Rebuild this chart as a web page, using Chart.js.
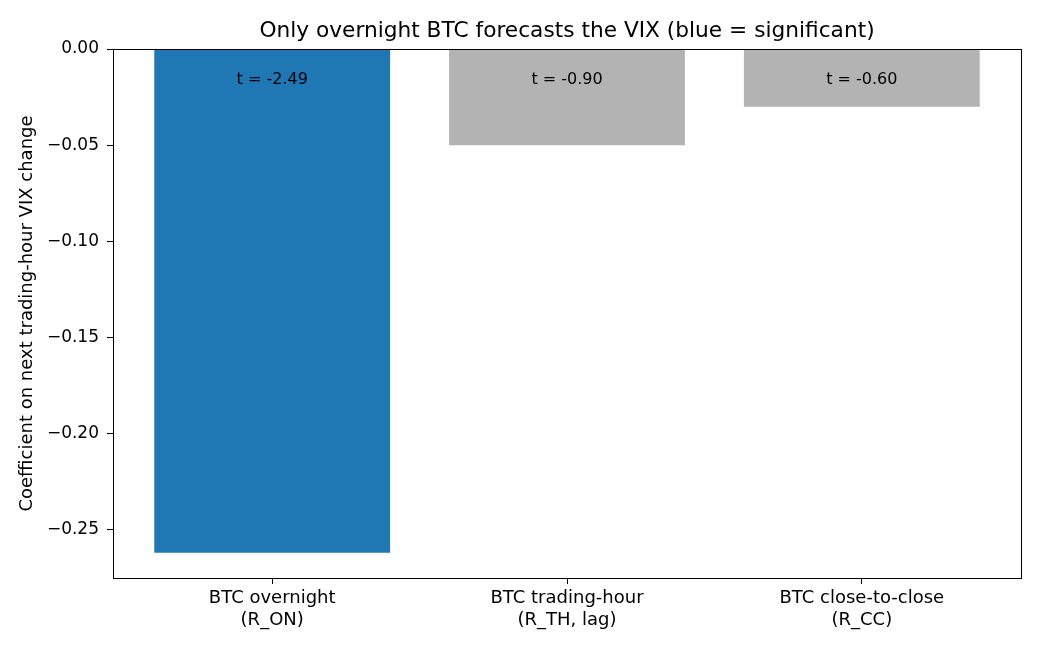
<!DOCTYPE html>
<html>
<head>
<meta charset="utf-8">
<script src="https://cdn.jsdelivr.net/npm/chart.js@4"></script>
<style>
html,body{margin:0;padding:0;background:#fff}
#wrap{width:1040px;height:650px}
</style>
</head>
<body>
<div id="wrap"><canvas id="c" width="1040" height="650"></canvas></div>
<script>
const xLabels=[['BTC overnight','(R_ON)'],['BTC trading-hour','(R_TH, lag)'],['BTC close-to-close','(R_CC)']]
const coefs=[-0.262,-0.050,-0.030]
const tStats=['t = -2.49','t = -0.90','t = -0.60']
const barColors=['#1f77b4','#b3b3b3','#b3b3b3']
const yTicks=[0,-0.05,-0.10,-0.15,-0.20,-0.25]
const titleText='Only overnight BTC forecasts the VIX (blue = significant)'

const font='DejaVu Sans'
Chart.defaults.font.family=font
Chart.defaults.color='#000'

// title centred over the axes, frame on all four sides, t labels
const extras={
    id:'extras',
    afterDatasetsDraw(chart){
        const ctx=chart.ctx
        const meta=chart.getDatasetMeta(0)
        const y0=chart.scales.y.getPixelForValue(0)
        const a=chart.chartArea
        ctx.save()
        ctx.fillStyle='#000'
        ctx.textAlign='center'
        ctx.textBaseline='middle'
        ctx.font='16px "'+font+'"'
        for (let i=0;i<meta.data.length;i++){
            ctx.fillText(tStats[i],meta.data[i].x,y0+31)
        }
        ctx.font='21.7px "'+font+'"'
        ctx.fillText(titleText,(a.left+a.right)/2,a.top-18)
        ctx.strokeStyle='#000'
        ctx.lineWidth=1
        ctx.strokeRect(Math.round(a.left)+0.5,Math.round(a.top)+0.5,Math.round(a.right-a.left),Math.round(a.bottom-a.top))
        ctx.restore()
    }
}

new Chart(document.getElementById('c'),{
    type:'bar',
    data:{
        datasets:[{
            data:coefs.map((v,i)=>({x:i,y:v})),
            backgroundColor:barColors,
            categoryPercentage:1,
            barPercentage:0.8,
            borderWidth:0
        }]
    },
    options:{
        responsive:false,
        animation:false,
        layout:{padding:{top:49,right:19,bottom:0,left:0}},
        plugins:{
            legend:{display:false},
            tooltip:{enabled:false},
            title:{display:false}
        },
        scales:{
            x:{
                type:'linear',
                min:-0.54,
                max:2.54,
                offset:false,
                grid:{display:true,offset:false,drawOnChartArea:false,drawTicks:true,tickLength:6,color:'#000'},
                border:{display:true,color:'#000'},
                afterBuildTicks(s){ s.ticks=[0,1,2].map(v=>({value:v})) },
                afterFit(s){ s.height=72 },
                ticks:{
                    autoSkip:false,
                    maxRotation:0,
                    padding:4,
                    font:{size:18,lineHeight:1.2},
                    callback:(v)=>xLabels[v]
                }
            },
            y:{
                min:coefs[0]*1.05,
                max:0,
                grid:{display:true,drawOnChartArea:false,drawTicks:true,tickLength:6,color:'#000'},
                border:{display:true,color:'#000'},
                afterBuildTicks(s){ s.ticks=yTicks.map(v=>({value:v})) },
                afterFit(s){ s.width=113 },
                ticks:{
                    padding:8,
                    font:{size:17},
                    callback:(v)=>v.toFixed(2).replace('-','\u2212')
                },
                title:{
                    display:true,
                    text:'Coefficient on next trading-hour VIX change',
                    font:{size:18},
                    padding:{top:17,bottom:0}
                }
            }
        }
    },
    plugins:[extras]
})
</script>
</body>
</html>
